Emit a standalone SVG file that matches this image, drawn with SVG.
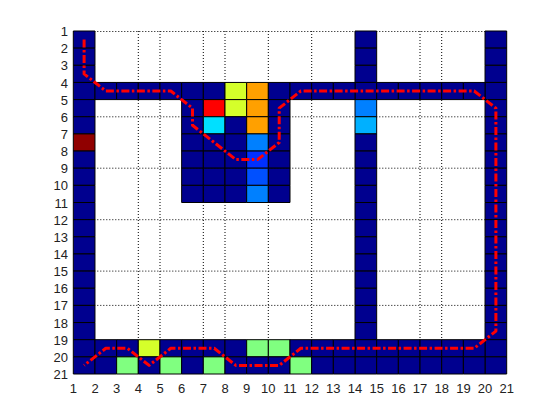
<svg xmlns="http://www.w3.org/2000/svg" width="558" height="419" viewBox="0 0 558 419">
<style>
.grid{stroke:#000;stroke-width:1;stroke-dasharray:1 2;fill:none}
#cells rect{stroke:#000;stroke-width:1;vector-effect:non-scaling-stroke;width:1px;height:1px}
.b{fill:#00008F}.dr{fill:#900000}.r{fill:#FF0000}.y{fill:#D5FF2A}.o{fill:#FFA000}
.c{fill:#00E0FF}.l8{fill:#0080FF}.l3{fill:#0030FF}.l5{fill:#0050FF}.lb{fill:#00B0FF}.g{fill:#80FF80}
.t{font-family:"Liberation Sans",Arial,sans-serif;font-size:13px;fill:#222}
.path{fill:none;stroke:#FF0000;stroke-width:3;stroke-dasharray:8 2.5 2.5 2.5;stroke-linejoin:round}
</style>
<rect width="558" height="419" fill="#fff"/>
<g id="gridlines">
<path class="grid" d="M138.3,31V374M160,31V374M203.3,31V374M225,31V374M268.3,31V374M311.7,31V374M420,31V374M441.7,31V374"/>
<path class="grid" d="M73.3,31.5H506.7M73.3,116.8H506.7M73.3,168.2H506.7M73.3,219.7H506.7M73.3,271.1H506.7M73.3,305.4H506.7"/>
</g>
<g id="cells" transform="translate(51.63,13.85) scale(21.67,17.15)">
<g id="col1">
<rect class="b" x="1" y="1" width="1" height="1"/><rect class="b" x="1" y="2" width="1" height="1"/><rect class="b" x="1" y="3" width="1" height="1"/><rect class="b" x="1" y="4" width="1" height="1"/><rect class="b" x="1" y="5" width="1" height="1"/><rect class="b" x="1" y="6" width="1" height="1"/><rect class="dr" x="1" y="7" width="1" height="1"/><rect class="b" x="1" y="8" width="1" height="1"/><rect class="b" x="1" y="9" width="1" height="1"/><rect class="b" x="1" y="10" width="1" height="1"/><rect class="b" x="1" y="11" width="1" height="1"/><rect class="b" x="1" y="12" width="1" height="1"/><rect class="b" x="1" y="13" width="1" height="1"/><rect class="b" x="1" y="14" width="1" height="1"/><rect class="b" x="1" y="15" width="1" height="1"/><rect class="b" x="1" y="16" width="1" height="1"/><rect class="b" x="1" y="17" width="1" height="1"/><rect class="b" x="1" y="18" width="1" height="1"/><rect class="b" x="1" y="19" width="1" height="1"/><rect class="b" x="1" y="20" width="1" height="1"/>
</g>
<g id="col14">
<rect class="b" x="14" y="1" width="1" height="1"/><rect class="b" x="14" y="2" width="1" height="1"/><rect class="b" x="14" y="3" width="1" height="1"/><rect class="b" x="14" y="4" width="1" height="1"/><rect class="l8" x="14" y="5" width="1" height="1"/><rect class="lb" x="14" y="6" width="1" height="1"/><rect class="b" x="14" y="7" width="1" height="1"/><rect class="b" x="14" y="8" width="1" height="1"/><rect class="b" x="14" y="9" width="1" height="1"/><rect class="b" x="14" y="10" width="1" height="1"/><rect class="b" x="14" y="11" width="1" height="1"/><rect class="b" x="14" y="12" width="1" height="1"/><rect class="b" x="14" y="13" width="1" height="1"/><rect class="b" x="14" y="14" width="1" height="1"/><rect class="b" x="14" y="15" width="1" height="1"/><rect class="b" x="14" y="16" width="1" height="1"/><rect class="b" x="14" y="17" width="1" height="1"/><rect class="b" x="14" y="18" width="1" height="1"/><rect class="b" x="14" y="19" width="1" height="1"/><rect class="b" x="14" y="20" width="1" height="1"/>
</g>
<g id="col20">
<rect class="b" x="20" y="1" width="1" height="1"/><rect class="b" x="20" y="2" width="1" height="1"/><rect class="b" x="20" y="3" width="1" height="1"/><rect class="b" x="20" y="4" width="1" height="1"/><rect class="b" x="20" y="5" width="1" height="1"/><rect class="b" x="20" y="6" width="1" height="1"/><rect class="b" x="20" y="7" width="1" height="1"/><rect class="b" x="20" y="8" width="1" height="1"/><rect class="b" x="20" y="9" width="1" height="1"/><rect class="b" x="20" y="10" width="1" height="1"/><rect class="b" x="20" y="11" width="1" height="1"/><rect class="b" x="20" y="12" width="1" height="1"/><rect class="b" x="20" y="13" width="1" height="1"/><rect class="b" x="20" y="14" width="1" height="1"/><rect class="b" x="20" y="15" width="1" height="1"/><rect class="b" x="20" y="16" width="1" height="1"/><rect class="b" x="20" y="17" width="1" height="1"/><rect class="b" x="20" y="18" width="1" height="1"/><rect class="b" x="20" y="19" width="1" height="1"/><rect class="b" x="20" y="20" width="1" height="1"/>
</g>
<g id="row4">
<rect class="b" x="2" y="4" width="1" height="1"/><rect class="b" x="3" y="4" width="1" height="1"/><rect class="b" x="4" y="4" width="1" height="1"/><rect class="b" x="5" y="4" width="1" height="1"/><rect class="b" x="6" y="4" width="1" height="1"/><rect class="b" x="7" y="4" width="1" height="1"/><rect class="y" x="8" y="4" width="1" height="1"/><rect class="o" x="9" y="4" width="1" height="1"/><rect class="b" x="10" y="4" width="1" height="1"/><rect class="b" x="11" y="4" width="1" height="1"/><rect class="b" x="12" y="4" width="1" height="1"/><rect class="b" x="13" y="4" width="1" height="1"/><rect class="b" x="15" y="4" width="1" height="1"/><rect class="b" x="16" y="4" width="1" height="1"/><rect class="b" x="17" y="4" width="1" height="1"/><rect class="b" x="18" y="4" width="1" height="1"/><rect class="b" x="19" y="4" width="1" height="1"/>
</g>
<g id="block">
<rect class="b" x="6" y="5" width="1" height="1"/><rect class="r" x="7" y="5" width="1" height="1"/><rect class="y" x="8" y="5" width="1" height="1"/><rect class="o" x="9" y="5" width="1" height="1"/><rect class="b" x="10" y="5" width="1" height="1"/>
<rect class="b" x="6" y="6" width="1" height="1"/><rect class="c" x="7" y="6" width="1" height="1"/><rect class="b" x="8" y="6" width="1" height="1"/><rect class="o" x="9" y="6" width="1" height="1"/><rect class="b" x="10" y="6" width="1" height="1"/>
<rect class="b" x="6" y="7" width="1" height="1"/><rect class="b" x="7" y="7" width="1" height="1"/><rect class="b" x="8" y="7" width="1" height="1"/><rect class="l8" x="9" y="7" width="1" height="1"/><rect class="b" x="10" y="7" width="1" height="1"/>
<rect class="b" x="6" y="8" width="1" height="1"/><rect class="b" x="7" y="8" width="1" height="1"/><rect class="b" x="8" y="8" width="1" height="1"/><rect class="l3" x="9" y="8" width="1" height="1"/><rect class="b" x="10" y="8" width="1" height="1"/>
<rect class="b" x="6" y="9" width="1" height="1"/><rect class="b" x="7" y="9" width="1" height="1"/><rect class="b" x="8" y="9" width="1" height="1"/><rect class="l5" x="9" y="9" width="1" height="1"/><rect class="b" x="10" y="9" width="1" height="1"/>
<rect class="b" x="6" y="10" width="1" height="1"/><rect class="b" x="7" y="10" width="1" height="1"/><rect class="b" x="8" y="10" width="1" height="1"/><rect class="l8" x="9" y="10" width="1" height="1"/><rect class="b" x="10" y="10" width="1" height="1"/>
</g>
<g id="row19">
<rect class="b" x="2" y="19" width="1" height="1"/><rect class="b" x="3" y="19" width="1" height="1"/><rect class="y" x="4" y="19" width="1" height="1"/><rect class="b" x="5" y="19" width="1" height="1"/><rect class="b" x="6" y="19" width="1" height="1"/><rect class="b" x="7" y="19" width="1" height="1"/><rect class="b" x="8" y="19" width="1" height="1"/><rect class="g" x="9" y="19" width="1" height="1"/><rect class="g" x="10" y="19" width="1" height="1"/><rect class="b" x="11" y="19" width="1" height="1"/><rect class="b" x="12" y="19" width="1" height="1"/><rect class="b" x="13" y="19" width="1" height="1"/><rect class="b" x="15" y="19" width="1" height="1"/><rect class="b" x="16" y="19" width="1" height="1"/><rect class="b" x="17" y="19" width="1" height="1"/><rect class="b" x="18" y="19" width="1" height="1"/><rect class="b" x="19" y="19" width="1" height="1"/>
</g>
<g id="row20">
<rect class="b" x="2" y="20" width="1" height="1"/><rect class="g" x="3" y="20" width="1" height="1"/><rect class="b" x="4" y="20" width="1" height="1"/><rect class="g" x="5" y="20" width="1" height="1"/><rect class="b" x="6" y="20" width="1" height="1"/><rect class="g" x="7" y="20" width="1" height="1"/><rect class="b" x="8" y="20" width="1" height="1"/><rect class="b" x="9" y="20" width="1" height="1"/><rect class="b" x="10" y="20" width="1" height="1"/><rect class="g" x="11" y="20" width="1" height="1"/><rect class="b" x="12" y="20" width="1" height="1"/><rect class="b" x="13" y="20" width="1" height="1"/><rect class="b" x="15" y="20" width="1" height="1"/><rect class="b" x="16" y="20" width="1" height="1"/><rect class="b" x="17" y="20" width="1" height="1"/><rect class="b" x="18" y="20" width="1" height="1"/><rect class="b" x="19" y="20" width="1" height="1"/>
</g>
</g>
<g id="connectors">
<path class="path" d="M84.1,39.6L84.1,73.9L105.8,91L170.8,91L192.5,108.2L192.5,125.3L235.8,159.6L257.5,159.6L279.2,142.5L279.2,108.2L300.8,91L474.2,91L495.9,108.2L495.9,331.1L474.2,348.3L300.8,348.3L279.2,365.4L235.8,365.4L214.2,348.3L170.8,348.3L149.1,365.4L127.5,348.3L105.8,348.3L84.1,365.4"/>
</g>
<g id="ylabels" class="t" text-anchor="end">
<text x="68" y="36">1</text><text x="68" y="53.2">2</text><text x="68" y="70.3">3</text><text x="68" y="87.5">4</text><text x="68" y="104.6">5</text><text x="68" y="121.8">6</text><text x="68" y="138.9">7</text><text x="68" y="156.1">8</text><text x="68" y="173.2">9</text><text x="68" y="190.4">10</text><text x="68" y="207.5">11</text><text x="68" y="224.7">12</text><text x="68" y="241.8">13</text><text x="68" y="259">14</text><text x="68" y="276.1">15</text><text x="68" y="293.3">16</text><text x="68" y="310.4">17</text><text x="68" y="327.6">18</text><text x="68" y="344.7">19</text><text x="68" y="361.9">20</text><text x="68" y="379">21</text>
</g>
<g id="xlabels" class="t" text-anchor="middle">
<text x="73.3" y="393">1</text><text x="95" y="393">2</text><text x="116.6" y="393">3</text><text x="138.3" y="393">4</text><text x="160" y="393">5</text><text x="181.7" y="393">6</text><text x="203.3" y="393">7</text><text x="225" y="393">8</text><text x="246.7" y="393">9</text><text x="268.3" y="393">10</text><text x="290" y="393">11</text><text x="311.7" y="393">12</text><text x="333.3" y="393">13</text><text x="355" y="393">14</text><text x="376.7" y="393">15</text><text x="398.4" y="393">16</text><text x="420" y="393">17</text><text x="441.7" y="393">18</text><text x="463.4" y="393">19</text><text x="485" y="393">20</text><text x="506.7" y="393">21</text>
</g>
</svg>
